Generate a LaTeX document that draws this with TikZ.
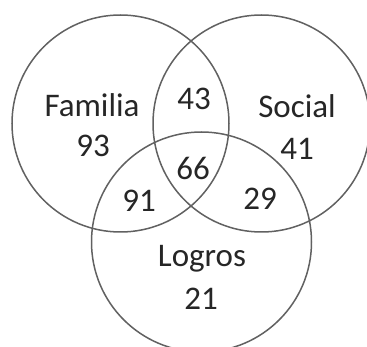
\documentclass[tikz,border=0pt]{standalone}
\usepackage{fontspec}
\setmainfont{Carlito}
\begin{document}
\begin{tikzpicture}[x=1pt,y=-1pt,
  ring/.style={draw=black!62,line width=1.5pt},
  lbl/.style={anchor=base,inner sep=0pt,text=black!85,font=\fontsize{33}{33}\selectfont}]
\useasboundingbox (0,0) rectangle (367,347);
\fill[white] (0,0) rectangle (367,347);
\draw[ring] (120.5,123.5) circle[radius=108.5];
\draw[ring] (261.5,123.5) circle[radius=108.5];
\draw[ring] (201.5,242) circle[radius=110];
\node[lbl] (fam) at (92,117) {Familia};
\node[lbl] (n93) at (93,157) {93};
\node[lbl] (n43) at (194,110) {43};
\node[lbl] (soc) at (297,118) {Social};
\node[lbl] (n41) at (297,160) {41};
\node[lbl] (n66) at (193,180) {66};
\node[lbl] (n91) at (139,212) {91};
\node[lbl] (n29) at (260,210) {29};
\node[lbl] (log) at (202,267) {Logros};
\node[lbl] (n21) at (201,310) {21};
\end{tikzpicture}
\end{document}
